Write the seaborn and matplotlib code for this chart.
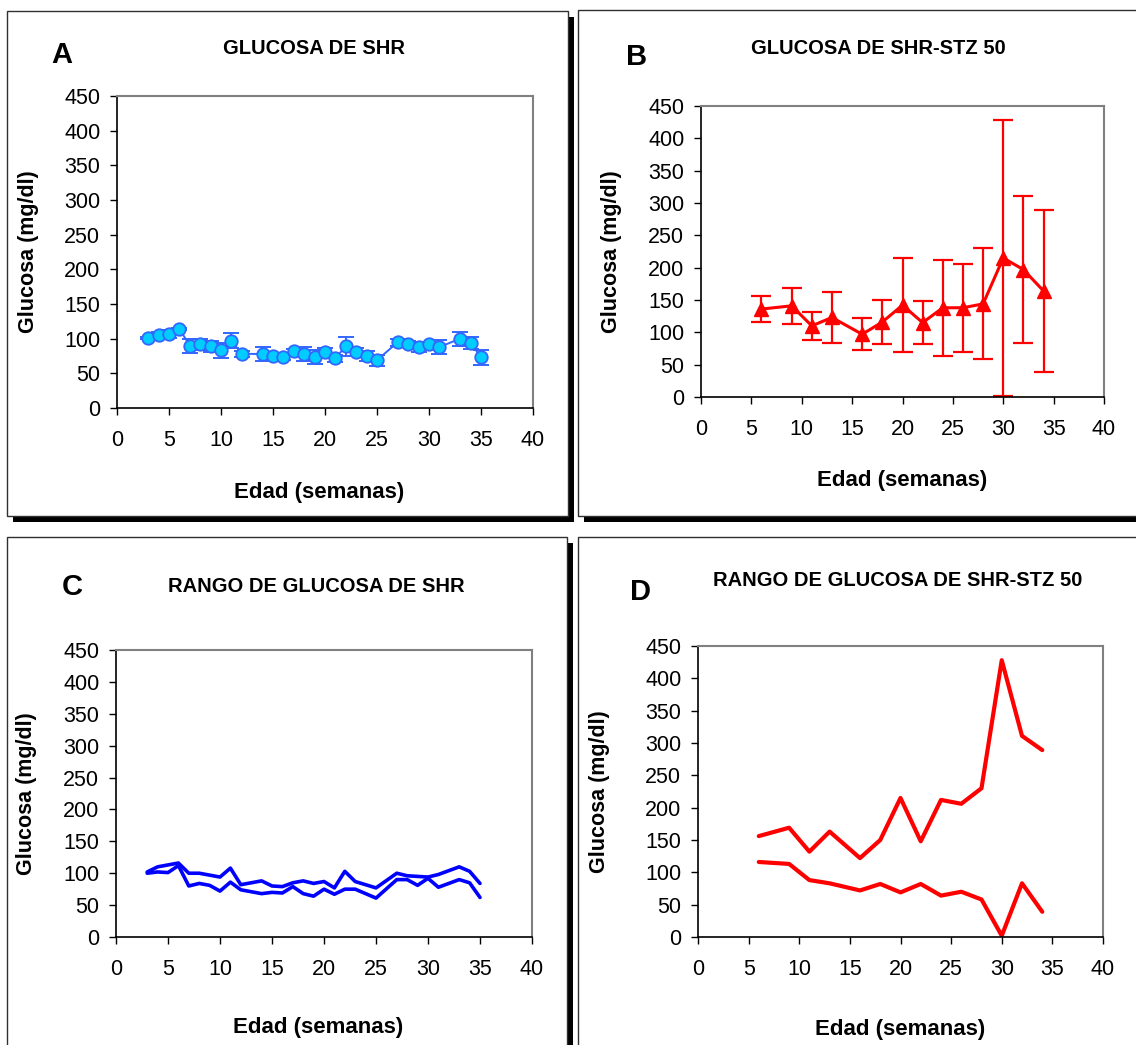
import numpy as np
import pandas as pd
import matplotlib
matplotlib.use("Agg")
import matplotlib.pyplot as plt
import seaborn as sns
from matplotlib.patches import Rectangle

# ---- data -------------------------------------------------------------
# SHR group: weekly glucose mean and standard deviation
shr_weeks = [3, 4, 5, 6, 7, 8, 9, 10, 11, 12, 14, 15, 16, 17, 18, 19, 20,
             21, 22, 23, 24, 25, 27, 28, 29, 30, 31, 33, 34, 35]
shr_mean = [101, 106, 107, 114, 90, 92, 89, 83, 97, 78, 78, 75, 74, 82, 78,
            74, 81, 72, 89, 81, 75, 69, 95, 93, 88, 93, 88, 100, 94, 73]
shr_sd = [1, 4, 6, 2, 10, 8, 8, 11, 11, 4, 10, 5, 5, 3, 10, 10, 6, 5, 14,
          6, 7, 8, 5, 3, 7, 1, 10, 10, 9, 11]

# SHR-STZ 50 group
stz_weeks = [6, 9, 11, 13, 16, 18, 20, 22, 24, 26, 28, 30, 32, 34]
stz_mean = [136, 141, 110, 123, 97, 116, 142, 115, 138, 138, 144, 215, 197, 164]
stz_sd = [20, 28, 22, 40, 25, 34, 73, 33, 74, 68, 86, 213, 114, 125]

x_ticks = list(range(0, 45, 5))
y_ticks = list(range(0, 500, 50))

panel_letters = ["A", "B", "C", "D"]
panel_titles = ["GLUCOSA DE SHR", "GLUCOSA DE SHR-STZ 50",
                "RANGO DE GLUCOSA DE SHR", "RANGO DE GLUCOSA DE SHR-STZ 50"]
x_label = "Edad (semanas)"
y_label = "Glucosa (mg/dl)"

shr = pd.DataFrame({"semana": shr_weeks, "media": shr_mean, "de": shr_sd})
shr["sup"] = shr["media"] + shr["de"]
shr["inf"] = shr["media"] - shr["de"]
stz = pd.DataFrame({"semana": stz_weeks, "media": stz_mean, "de": stz_sd})
stz["sup"] = stz["media"] + stz["de"]
stz["inf"] = stz["media"] - stz["de"]

# ---- style -------------------------------------------------------------
sns.set_style("white")
plt.rcParams["font.family"] = ["Liberation Sans", "DejaVu Sans"]
plt.rcParams["text.color"] = "black"
plt.rcParams["axes.labelcolor"] = "black"
plt.rcParams["xtick.color"] = "black"
plt.rcParams["ytick.color"] = "black"

W, H = 1136, 1045
fig = plt.figure(figsize=(W / 100, H / 100), dpi=100)
fig.patch.set_facecolor("white")


def fx(px):
    return px / W


def fy(py):
    return 1 - py / H


def add_box(x0, y0, x1, y1):
    """Framed panel with a black drop shadow (pixel coordinates)."""
    sh = Rectangle((fx(x0 + 6), fy(y1 + 6)), fx(x1 - x0), (y1 - y0) / H,
                   transform=fig.transFigure, facecolor="black",
                   edgecolor="none", zorder=-3)
    bx = Rectangle((fx(x0), fy(y1)), fx(x1 - x0), (y1 - y0) / H,
                   transform=fig.transFigure, facecolor="white",
                   edgecolor="#303030", linewidth=1.0, zorder=-2)
    fig.add_artist(sh)
    fig.add_artist(bx)


add_box(7, 11, 568, 516)
add_box(578, 10, 1150, 516)
add_box(7, 537, 567, 1060)
add_box(578, 537, 1150, 1060)


def make_axes(x0, x1, ytop, ybot):
    ax = fig.add_axes([fx(x0), fy(ybot), fx(x1 - x0), (ybot - ytop) / H])
    ax.set_xlim(0, 40)
    ax.set_ylim(0, 450)
    ax.set_xticks(x_ticks)
    ax.set_yticks(y_ticks)
    ax.set_xticklabels([str(t) for t in x_ticks], fontsize=15.5)
    ax.set_yticklabels([str(t) for t in y_ticks], fontsize=15.5)
    ax.tick_params(axis="x", direction="out", length=5, width=1,
                   color="black", labelcolor="black", pad=11, bottom=True)
    ax.tick_params(axis="y", direction="out", length=5, width=1,
                   color="black", labelcolor="black", pad=7, left=True)
    for s in ["left", "bottom"]:
        ax.spines[s].set_color("black")
        ax.spines[s].set_linewidth(1.2)
    for s in ["top", "right"]:
        ax.spines[s].set_color("#808080")
        ax.spines[s].set_linewidth(1.5)
    ax.grid(False)
    ax.set_facecolor("white")
    return ax


def label_axes(ax, ylx, xly, xlx=0.5):
    ax.set_xlabel(x_label, fontsize=16, fontweight="bold", color="black")
    ax.set_ylabel(y_label, fontsize=15.5, fontweight="bold", color="black")
    ax.xaxis.set_label_coords(xlx, xly)
    ax.yaxis.set_label_coords(ylx, 0.5)


# ---- A: SHR mean +/- SD -------------------------------------------------
axA = make_axes(117, 533, 96, 408)
axA.errorbar(shr["semana"], shr["media"], yerr=shr["de"], fmt="none",
             ecolor="#3366FF", elinewidth=1.4, capsize=6, capthick=1.4,
             zorder=2)
sns.lineplot(data=shr, x="semana", y="media", ax=axA, color="#3366FF",
             linewidth=1.4, marker="o", markersize=9,
             markerfacecolor="#00CCFF", markeredgecolor="#3366FF",
             markeredgewidth=1.3, zorder=3)
label_axes(axA, -0.188, -0.237, 0.485)

# ---- B: SHR-STZ 50 mean +/- SD ------------------------------------------
axB = make_axes(701, 1104, 106, 397)
axB.errorbar(stz["semana"], stz["media"], yerr=stz["de"], fmt="none",
             ecolor="#FF0000", elinewidth=1.6, capsize=7, capthick=1.6,
             zorder=2)
sns.lineplot(data=stz, x="semana", y="media", ax=axB, color="#FF0000",
             linewidth=2.2, marker="^", markersize=10.5,
             markerfacecolor="#FF0000", markeredgecolor="#FF0000",
             markeredgewidth=1, zorder=3)
label_axes(axB, -0.196, -0.25)

# ---- C: SHR range -------------------------------------------------------
axC = make_axes(116, 532, 650, 937)
sns.lineplot(data=shr, x="semana", y="sup", ax=axC, color="#0000FF",
             linewidth=2.6)
sns.lineplot(data=shr, x="semana", y="inf", ax=axC, color="#0000FF",
             linewidth=2.6)
label_axes(axC, -0.19, -0.279, 0.485)

# ---- D: SHR-STZ 50 range ------------------------------------------------
axD = make_axes(698, 1103, 646, 937)
sns.lineplot(data=stz, x="semana", y="sup", ax=axD, color="#FF0000",
             linewidth=3.0)
sns.lineplot(data=stz, x="semana", y="inf", ax=axD, color="#FF0000",
             linewidth=3.0)
label_axes(axD, -0.217, -0.282)

# ---- panel letters and titles ---------------------------------------------
letter_pos = [(62, 55), (637, 57), (72, 587), (640, 592)]
title_pos = [(314, 48), (878, 48), (316, 587), (898, 580)]
for letter, (lx, ly) in zip(panel_letters, letter_pos):
    fig.text(fx(lx), fy(ly), letter, fontsize=21, fontweight="bold",
             ha="center", va="center", color="black")
for title, (tx, ty) in zip(panel_titles, title_pos):
    fig.text(fx(tx), fy(ty), title, fontsize=14.5, fontweight="bold",
             ha="center", va="center", color="black")

fig.savefig("out.png", dpi=100, facecolor="white")
